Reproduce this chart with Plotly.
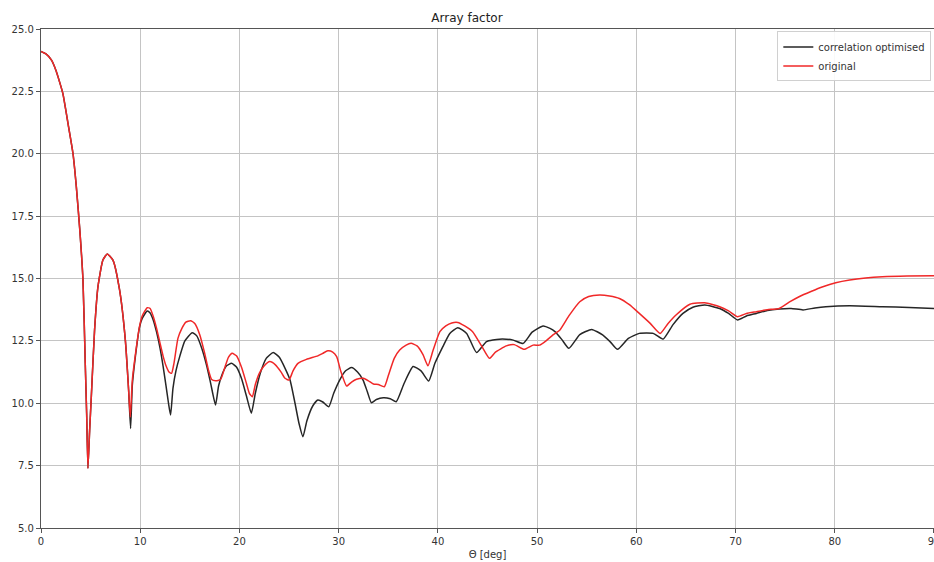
import plotly.graph_objects as go

# Array factor (dB) versus steering angle theta (deg)
theta_opt = [0, 0.5, 1.04, 1.5, 1.71, 2.2, 2.72, 3.22, 3.56, 3.9, 4.23, 4.46, 4.6, 4.73,
             4.9, 5.07, 5.4, 5.74, 6.24, 6.68, 7.25, 7.92, 8.5, 8.83,
             9.03, 9.2, 9.43, 9.94, 10.2, 10.7, 11.0, 11.3, 11.65, 12.0, 12.3, 12.6, 12.85,
             13.06, 13.3, 13.6, 14.0, 14.5, 15.24, 15.7, 16.2, 16.7, 17.1, 17.59, 17.9, 18.3,
             18.7, 19.2, 19.7, 20.2, 20.7, 21.2, 21.6, 22.1, 22.7, 23.4, 24.0, 24.6, 25.1,
             25.6, 26.0, 26.4, 26.8, 27.4, 27.9, 28.4, 29.0, 29.5, 30.1, 30.7, 31.3, 31.9,
             32.46, 32.9, 33.3, 33.8, 34.5, 35.2, 35.8, 36.6, 37.5, 38.3, 39.07, 39.7, 40.5,
             41.2, 42.0, 42.9, 43.9, 44.9, 46.2, 47.6, 48.6, 49.5, 50.6, 51.3, 51.8, 52.5,
             53.2, 54.3, 55.5, 56.6, 57.4, 58.1, 59.2, 60.3, 61.7, 62.7, 63.7, 64.7, 65.7,
             66.9, 68.4, 69.3, 70.2, 71.1, 72.1, 73.2, 74.4, 75.6, 76.8, 78.0, 79.1, 81.5,
             84.8, 87.5, 90.0]
af_opt = [24.10, 24.00, 23.76, 23.35, 23.09, 22.42, 21.22, 20.02, 18.68, 17.00, 14.94, 11.60,
          9.60, 7.39, 8.90, 10.26, 12.94, 14.67, 15.74, 15.98, 15.74, 14.54, 12.53, 10.53,
          8.99, 10.70, 11.60, 13.07, 13.40,
          13.70, 13.62, 13.35, 12.85, 12.20, 11.50, 10.70, 10.00, 9.53, 10.60, 11.30, 11.90,
          12.50, 12.83, 12.70, 12.20, 11.50, 10.80, 9.93, 10.70, 11.20, 11.50, 11.60, 11.45,
          11.00, 10.30, 9.60, 10.40, 11.20, 11.80, 12.03, 11.85, 11.40, 10.93, 10.00, 9.20,
          8.66, 9.30, 9.90, 10.13, 10.05, 9.86, 10.40, 10.93, 11.30, 11.43, 11.25, 10.93,
          10.45, 10.02, 10.15, 10.22, 10.18, 10.06, 10.80, 11.47, 11.30, 10.89, 11.60, 12.27,
          12.80, 13.03, 12.80, 12.03, 12.47, 12.57, 12.53, 12.40, 12.85, 13.10, 13.00, 12.87,
          12.55, 12.20, 12.75, 12.96, 12.74, 12.45, 12.16, 12.60, 12.80, 12.80, 12.57, 13.15,
          13.60, 13.85, 13.94, 13.80, 13.60, 13.34, 13.50, 13.60, 13.72, 13.78, 13.80, 13.74,
          13.82, 13.87, 13.91, 13.87, 13.84, 13.80]

theta_orig = [0, 0.5, 1.04, 1.5, 1.71, 2.2, 2.72, 3.22, 3.56, 3.9, 4.23, 4.46, 4.6, 4.73,
              4.9, 5.07, 5.4, 5.74, 6.24, 6.68, 7.25, 7.92, 8.5, 8.83,
              9.0, 9.2, 9.43, 9.94, 10.2, 10.7, 11.0, 11.3, 11.65, 12.0, 12.3, 12.6, 12.9,
              13.16, 13.4, 13.8, 14.2, 14.6, 15.07, 15.5, 16.0, 16.5, 16.9, 17.2, 17.6, 18.1,
              18.5, 18.9, 19.27, 19.7, 20.2, 20.7, 21.0, 21.3, 21.6, 22.0, 22.5, 23.06, 23.6,
              24.2, 24.6, 25.0, 25.4, 25.9, 26.75, 27.9, 28.4, 28.9, 29.4, 29.8, 30.2, 30.8,
              31.3, 31.8, 32.5, 33.0, 33.5, 34.0, 34.6, 35.0, 35.6, 36.15, 36.8, 37.3, 37.9,
              38.5, 39.0, 39.5, 40.2, 40.8, 41.4, 42.0, 42.7, 43.5, 44.4, 45.2, 45.8, 46.9,
              47.7, 48.7, 49.6, 50.25, 50.9, 51.6, 52.3, 53.2, 54.3, 55.2, 56.3, 57.3, 58.3,
              59.3, 60.3, 61.4, 62.4, 63.2, 64.0, 65.4, 66.9, 68.4, 69.3, 70.2, 71.1, 72.1,
              73.2, 74.4, 75.4, 76.4, 77.6, 78.8, 80.1, 81.5, 83.1, 84.8, 87.3, 90.0]
af_orig = [24.10, 24.00, 23.76, 23.35, 23.09, 22.42, 21.22, 20.02, 18.68, 17.00, 14.94, 11.60,
           9.60, 7.39, 8.90, 10.26, 12.94, 14.67, 15.74, 15.98, 15.74, 14.54, 12.53, 10.53,
           9.45, 10.90, 11.70, 13.10, 13.50,
           13.83, 13.80, 13.50, 13.00, 12.40, 11.90, 11.50, 11.25, 11.20, 11.60, 12.60, 13.00,
           13.25, 13.31, 13.20, 12.75, 12.00, 11.30, 10.95, 10.90, 10.95, 11.40, 11.85, 12.00,
           11.90, 11.45, 10.80, 10.40, 10.26, 10.75, 11.20, 11.50, 11.67, 11.55, 11.25, 11.00,
           10.93, 11.30, 11.60, 11.76, 11.90, 12.00, 12.10, 12.05, 11.87, 11.30, 10.69, 10.85,
           10.96, 11.00, 10.90, 10.77, 10.75, 10.66, 11.10, 11.80, 12.13, 12.33, 12.40, 12.30,
           11.95, 11.50, 12.10, 12.87, 13.10, 13.22, 13.24, 13.10, 12.87, 12.30, 11.80, 12.05,
           12.30, 12.35, 12.16, 12.33, 12.33, 12.50, 12.74, 12.94, 13.50, 14.07, 14.28, 14.34,
           14.30, 14.20, 13.95, 13.60, 13.20, 12.80, 13.20, 13.54, 13.97, 14.03, 13.87, 13.70,
           13.47, 13.60, 13.67, 13.75, 13.80, 14.05, 14.27, 14.48, 14.67, 14.83, 14.94, 15.02,
           15.07, 15.10, 15.11]

x_ticks = [0, 10, 20, 30, 40, 50, 60, 70, 80, 90]
y_ticks = [5.0, 7.5, 10.0, 12.5, 15.0, 17.5, 20.0, 22.5, 25.0]

font_family = "DejaVu Sans"

fig = go.Figure()
fig.add_trace(go.Scatter(x=theta_opt, y=af_opt, mode="lines",
                         name="correlation optimised",
                         line=dict(color="#262626", width=1.5, shape="spline", smoothing=0.5)))
fig.add_trace(go.Scatter(x=theta_orig, y=af_orig, mode="lines",
                         name="original",
                         line=dict(color="#f02828", width=1.5, shape="spline", smoothing=0.5)))

axis_common = dict(
    showgrid=True, gridcolor="#c4c4c4", gridwidth=1,
    showline=True, linecolor="#555555", linewidth=1.3, mirror=True,
    ticks="outside", ticklen=4, tickcolor="#555555", tickwidth=1,
    tickfont=dict(family=font_family, size=10, color="#333333"),
    zeroline=False, automargin=False,
)

fig.update_layout(
    width=934, height=562,
    margin=dict(l=41, r=0, t=29, b=34),
    paper_bgcolor="white", plot_bgcolor="white",
    title=dict(text="Array factor", x=0.5, xanchor="center", y=0.968, yanchor="middle",
               font=dict(family=font_family, size=12, color="#222222")),
    xaxis=dict(range=[0, 90.001], tickvals=x_ticks, ticklabeloverflow="allow",
               title=dict(text="Θ [deg]", standoff=4,
                          font=dict(family=font_family, size=10, color="#333333")),
               **axis_common),
    yaxis=dict(range=[5, 25], tickvals=y_ticks, tickformat=".1f", **axis_common),
    legend=dict(x=0.997, y=0.995, xanchor="right", yanchor="top",
                bgcolor="rgba(255,255,255,0.9)", bordercolor="#d0d0d0", borderwidth=1,
                font=dict(family=font_family, size=10, color="#333333"),
                tracegroupgap=0, itemwidth=30),
    showlegend=True,
)

fig.write_html("out.html")
